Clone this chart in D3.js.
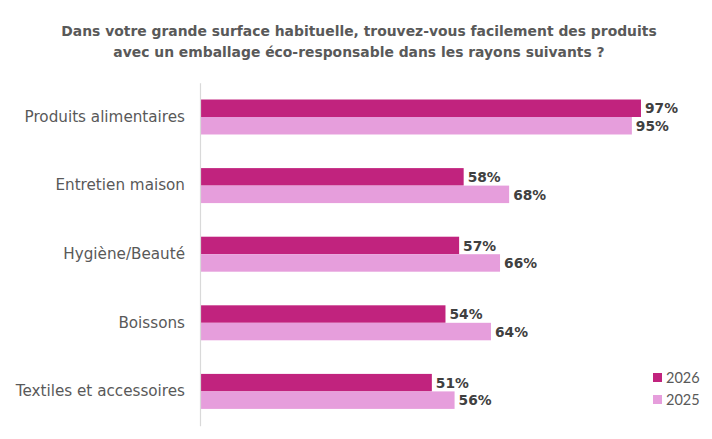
<!DOCTYPE html>
<html>
<head>
<meta charset="utf-8">
<script src="https://cdn.jsdelivr.net/npm/d3@7"></script>
<style>
  body { margin: 0; background: #fff; }
  svg { display: block; font-family: "DejaVu Sans", sans-serif; }
</style>
</head>
<body>
<svg id="chart" width="712" height="439"></svg>
<script>
// rayons (top to bottom)
var categories = ["Produits alimentaires", "Entretien maison", "Hygiène/Beauté", "Boissons", "Textiles et accessoires"];
var series = ["2026", "2025"];
var values2026 = [97, 58, 57, 54, 51];
var values2025 = [95, 68, 66, 64, 56];
var titleLines = ["Dans votre grande surface habituelle, trouvez-vous facilement des produits",
                  "avec un emballage éco-responsable dans les rayons suivants ?"];

var COLORS = {"2026": "#C1237E", "2025": "#E69EDC"};

var svg = d3.select("#chart");

var AXIS_X = 200;
var x = d3.scaleLinear().domain([0, 100]).range([AXIS_X, AXIS_X + 454.6]);
var y = d3.scaleBand().domain(categories).range([82.7, 425.7]).paddingInner(0.49).paddingOuter(0.245);
var ySub = d3.scaleBand().domain(series).range([0, y.bandwidth()]);

var data = categories.map(function(c, i){
	return {cat: c, vals: [{s: "2026", v: values2026[i]}, {s: "2025", v: values2025[i]}]};
});

// title
svg.append("g").selectAll("text")
	.data(titleLines)
	.enter().append("text")
	.attr("x", 359)
	.attr("y", function(d, i){ return 36 + i * 21; })
	.attr("text-anchor", "middle")
	.style("font-size", "13.9px")
	.style("font-weight", "bold")
	.style("fill", "#595959")
	.text(function(d){ return d; });

// bars
var groups = svg.append("g").selectAll("g")
	.data(data)
	.enter().append("g")
	.attr("transform", function(d){ return "translate(0," + y(d.cat) + ")"; });

groups.selectAll("rect")
	.data(function(d){ return d.vals; })
	.enter().append("rect")
	.attr("x", x(0))
	.attr("y", function(d){ return ySub(d.s); })
	.attr("width", function(d){ return x(d.v) - x(0); })
	.attr("height", ySub.bandwidth())
	.style("fill", function(d){ return COLORS[d.s]; });

groups.selectAll("text.val")
	.data(function(d){ return d.vals; })
	.enter().append("text")
	.attr("class", "val")
	.attr("x", function(d){ return x(d.v) + 4; })
	.attr("y", function(d){ return ySub(d.s) + ySub.bandwidth() / 2; })
	.attr("dy", "0.38em")
	.style("font-size", "13.8px")
	.style("font-weight", "bold")
	.style("fill", "#404040")
	.text(function(d){ return d.v + "%"; });

// category axis
var yAxis = d3.axisLeft(y).tickSize(0).tickPadding(15);
var gAxis = svg.append("g")
	.attr("transform", "translate(" + AXIS_X + ",0)")
	.call(yAxis);
gAxis.select(".domain").attr("stroke", "#d9d9d9").attr("stroke-width", 1.2);
gAxis.selectAll("text")
	.style("font-family", "DejaVu Sans, sans-serif")
	.style("font-size", "15.2px")
	.style("fill", "#595959");

// legend
var legend = svg.append("g").selectAll("g")
	.data(series)
	.enter().append("g")
	.attr("transform", function(d, i){ return "translate(653," + (373 + i * 22) + ")"; });
legend.append("rect")
	.attr("width", 9).attr("height", 9)
	.style("fill", function(d){ return COLORS[d]; });
legend.append("text")
	.attr("x", 13).attr("y", 4.5).attr("dy", "0.36em")
	.style("font-family", "Lato, sans-serif")
	.style("font-size", "14.5px")
	.style("fill", "#595959")
	.text(function(d){ return d; });
</script>
</body>
</html>
